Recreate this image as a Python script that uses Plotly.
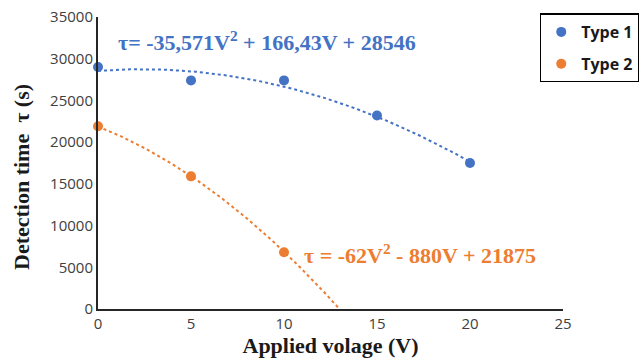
import numpy as np
import plotly.graph_objects as go

# Measured detection times
voltage_1 = [0, 5, 10, 15, 20]
time_1 = [29000, 27400, 27400, 23200, 17500]
voltage_2 = [0, 5, 10]
time_2 = [21900, 15900, 6800]

# Quadratic trendline coefficients (a*V^2 + b*V + c)
coef_1 = [-35.571, 166.43, 28546]
coef_2 = [-62, -880, 21875]

x_ticks = [0, 5, 10, 15, 20, 25]
y_ticks = [0, 5000, 10000, 15000, 20000, 25000, 30000, 35000]
y_tick_text = ["0", "5000", "10000", "15000", "20000", "25000", "30000", "35000"]

BLUE = "#4472C4"
ORANGE = "#ED7D31"

fig = go.Figure()

# Trendline for Type 1 over the measured span
v1 = np.linspace(0, 20, 200)
fig.add_trace(go.Scatter(x=v1, y=np.polyval(coef_1, v1), mode="lines",
                         line=dict(color=BLUE, width=2, dash="dot"),
                         showlegend=False, hoverinfo="skip"))

# Trendline for Type 2, stopped where it reaches zero
root = max(r.real for r in np.roots(coef_2) if abs(r.imag) < 1e-9)
v2 = np.linspace(0, root, 200)
fig.add_trace(go.Scatter(x=v2, y=np.polyval(coef_2, v2), mode="lines",
                         line=dict(color=ORANGE, width=2, dash="dot"),
                         showlegend=False, hoverinfo="skip"))

fig.add_trace(go.Scatter(x=voltage_1, y=time_1, mode="markers", name="Type 1",
                         legendgroup="t1",
                         marker=dict(color=BLUE, size=10), cliponaxis=False))
fig.add_trace(go.Scatter(x=voltage_2, y=time_2, mode="markers", name="Type 2",
                         legendgroup="t2",
                         marker=dict(color=ORANGE, size=10), cliponaxis=False))

eq_font = dict(family="Liberation Serif, Times New Roman, serif", size=22)
fig.add_annotation(x=0.98, y=32100, xref="x", yref="y", xanchor="left", yanchor="middle",
                   text="<b>τ= -35,571V<sup>2</sup> + 166,43V + 28546</b>",
                   showarrow=False, font=dict(color=BLUE, **eq_font))
fig.add_annotation(x=10.95, y=6550, xref="x", yref="y", xanchor="left", yanchor="middle",
                   text="<b>τ = -62V<sup>2</sup> - 880V + 21875</b>",
                   showarrow=False, font=dict(color=ORANGE, **eq_font))

tick_font = dict(family="Open Sans, Liberation Sans, sans-serif", size=15, color="#404040")
title_font = dict(family="Liberation Serif, Times New Roman, serif", size=22, color="#1a1a1a")

# Vertical axis title placed as a rotated label
fig.add_annotation(x=-0.165, y=0.453, xref="paper", yref="paper", xanchor="center", yanchor="middle",
                   text="<b>Detection time  τ (s)</b>", textangle=-90,
                   showarrow=False, font=title_font)

fig.update_layout(
    width=639, height=360,
    margin=dict(l=98, r=76, t=17, b=51, autoexpand=False),
    paper_bgcolor="white", plot_bgcolor="white",
    legend=dict(x=0.95, y=1.012, xanchor="left", yanchor="top",
                bordercolor="#000000", borderwidth=1.5, bgcolor="white",
                font=dict(family="Open Sans, Liberation Sans, sans-serif", size=16, color="#1a1a1a",
                          weight="bold"),
                itemwidth=30, tracegroupgap=8),
    xaxis=dict(range=[0, 25], tickvals=x_ticks, showgrid=False, zeroline=False,
               showline=True, linecolor="#262626", linewidth=2, ticks="",
               tickfont=tick_font,
               title=dict(text="<b>Applied volage (V)</b>", font=title_font, standoff=3)),
    yaxis=dict(range=[0, 35000], tickvals=y_ticks, ticktext=y_tick_text,
               showgrid=False, zeroline=False,
               showline=True, linecolor="#262626", linewidth=2, ticks="",
               tickfont=tick_font),
)

fig.write_html("out.html")
